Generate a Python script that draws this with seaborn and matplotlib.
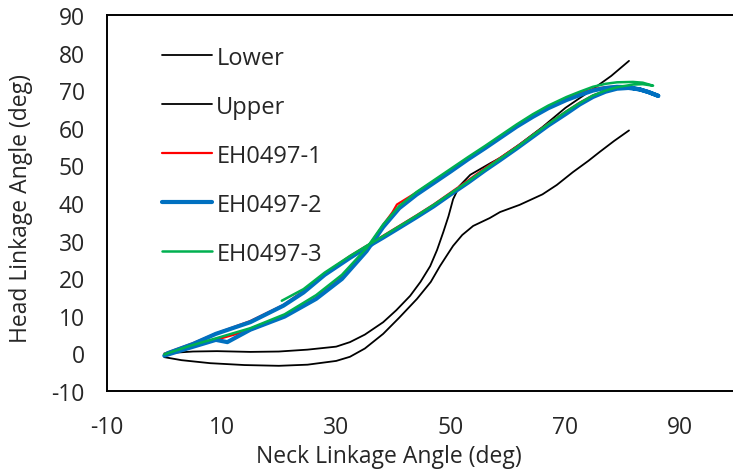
import numpy as np
import pandas as pd
import matplotlib
matplotlib.use("Agg")
import matplotlib.pyplot as plt
import seaborn as sns

# ---------------- data ----------------
lower_x = [0, 3, 8, 14, 20, 25, 30, 32.4, 35, 38.2, 41, 44.1, 46.5, 48.1, 49.5, 50.4, 52, 53.9,
           56.8, 58.6, 62, 66, 68.5, 71.3, 74, 76, 78.5, 81.1]
lower_y = [-1, -1.8, -2.6, -3.1, -3.3, -3, -2.0, -0.9, 1.3, 5.2, 9.5, 14.5, 19, 23.2, 26.5, 28.6, 31.5, 33.9,
           36, 37.6, 39.5, 42.3, 44.8, 48.2, 51.2, 53.6, 56.5, 59.3]

upper_x = [0, 5, 9.2, 15, 20, 25, 30, 32.4, 35, 38.2, 40.5, 42.9, 44.7, 46.4, 47.6, 48.7, 49.6, 50.4,
           51.5, 53.4, 56.8, 58.6, 62, 66, 70, 74.8, 78, 81.1]
upper_y = [0, 0.5, 0.6, 0.4, 0.5, 1, 1.8, 3, 5, 8.3, 11.5, 15.3, 19, 23.2, 27.5, 32.3, 36.5, 41,
           44.5, 47.5, 50.5, 52.0, 55.6, 60.2, 65.3, 70.3, 73.8, 77.8]

# EH0497-1 (red): rising branch then returning branch
eh1_up_x = [0, 4, 9, 15, 21, 26.5, 31, 35.3, 38.2, 39.8, 40.6, 44, 47, 50, 53, 56, 58.6, 61.5, 64.3,
            67, 70.2, 72.5, 74.8, 77, 79, 80.7]
eh1_up_y = [-0.4, 1.6, 3.6, 6.2, 9.8, 14.8, 20.3, 27.6, 34.2, 37.5, 39.6, 42.8, 45.8, 48.8, 51.8, 54.8, 57.5,
            60.4, 63.1, 65.6, 67.9, 69.2, 70.3, 70.8, 71.0, 70.9]
eh1_dn_x = [80.7, 79, 77, 74.8, 72.5, 70.2, 67, 64.3, 61.5, 58.6, 56, 53, 50, 47, 44, 41, 38.2, 35.3,
            32.4, 28, 24.3, 20.8, 15, 9, 5, 0.5]
eh1_dn_y = [70.9, 70.4, 69.8, 68.6, 66.7, 64.4, 61.1, 58.1, 55.0, 52.0, 49.3, 46.0, 42.8, 39.6, 36.7, 33.9,
            31.3, 28.6, 25.9, 21.2, 16.6, 12.9, 8.6, 5.3, 2.7, 0.2]

# EH0497-2 (blue)
eh2_up_x = [0, 4, 9, 11, 15, 21, 26.5, 31, 35.3, 38.2, 41, 44, 47, 50, 53, 56, 58.6, 61.5, 64.3, 67,
            70.2, 72.5, 74.8, 77, 79, 81, 83, 84.5, 86.2]
eh2_up_y = [-0.6, 1.3, 3.6, 3.0, 6.3, 9.8, 14.5, 19.8, 27.2, 33.6, 38.6, 42.2, 45.3, 48.4, 51.6, 54.6, 57.3,
            60.3, 62.9, 65.2, 67.4, 68.7, 69.9, 70.6, 70.9, 70.8, 70.2, 69.5, 68.5]
eh2_dn_x = [86.2, 84.5, 83, 81, 79, 77, 74.8, 72.5, 70.2, 67, 64.3, 61.5, 58.6, 56, 53, 50, 47, 44, 41,
            38.2, 35.3, 32.4, 28, 24.3, 20.8, 15, 9, 5, 0.5]
eh2_dn_y = [68.5, 69.5, 70.2, 70.6, 70.4, 69.6, 68.2, 66.2, 63.8, 60.6, 57.6, 54.5, 51.4, 48.7, 45.4, 42.3,
            39.1, 36.2, 33.4, 30.8, 28.2, 25.4, 20.9, 16.2, 12.7, 8.3, 5.2, 2.5, 0]

# EH0497-3 (green)
eh3_up_x = [0, 4, 9, 15, 21, 26.5, 31, 35.3, 38.2, 41, 44, 47, 50, 53, 56, 58.6, 61.5, 64.3, 67, 70.2,
            72.5, 74.8, 77, 79, 81.8, 83.5, 85.3]
eh3_up_y = [-0.3, 1.8, 4.0, 6.7, 10.4, 15.5, 20.9, 28.0, 34.3, 39.2, 42.9, 46.0, 49.1, 52.2, 55.2, 57.9,
            60.9, 63.6, 65.9, 68.2, 69.6, 70.9, 71.7, 72.1, 72.2, 72.0, 71.2]
eh3_dn_x = [85.3, 83.5, 81.8, 79, 77, 74.8, 72.5, 70.2, 67, 64.3, 61.5, 58.6, 56, 53, 50, 47, 44, 41,
            38.2, 35.3, 32.4, 28, 24.3, 20.5]
eh3_dn_y = [71.2, 71.6, 71.5, 70.8, 69.9, 68.6, 66.6, 64.4, 61.0, 58.0, 54.8, 51.8, 49.0, 45.7, 42.6,
            39.5, 36.6, 33.8, 31.2, 28.6, 25.9, 21.5, 17.1, 14.0]

series_names = ["Lower", "Upper", "EH0497-1", "EH0497-2", "EH0497-3"]
x_ticks = [-10, 10, 30, 50, 70, 90]
y_ticks = [-10, 0, 10, 20, 30, 40, 50, 60, 70, 80, 90]

# ---------------- build table ----------------
paths = {
    "Lower": (lower_x, lower_y),
    "Upper": (upper_x, upper_y),
    "EH0497-1": (eh1_up_x + eh1_dn_x, eh1_up_y + eh1_dn_y),
    "EH0497-2": (eh2_up_x + eh2_dn_x, eh2_up_y + eh2_dn_y),
    "EH0497-3": (eh3_up_x + eh3_dn_x, eh3_up_y + eh3_dn_y),
}
frames = []
for name in series_names:
    xs, ys = paths[name]
    frames.append(pd.DataFrame({"neck": xs, "head": ys, "series": name, "order": range(len(xs))}))
df = pd.concat(frames, ignore_index=True)

colors = {"Lower": "#000000", "Upper": "#000000", "EH0497-1": "#FF0000",
          "EH0497-2": "#0070C0", "EH0497-3": "#00B050"}
widths = {"Lower": 1.3, "Upper": 1.3, "EH0497-1": 1.6, "EH0497-2": 3.0, "EH0497-3": 1.8}

# ---------------- style ----------------
sns.set_theme(style="white")
plt.rcParams["font.family"] = ["Open Sans", "DejaVu Sans"]
plt.rcParams["axes.unicode_minus"] = False

fig = plt.figure(figsize=(7.33, 4.77), dpi=100)
ax = fig.add_axes([107 / 733, 85 / 477, 1 - 107 / 733, 376 / 477])

for name in series_names:
    sub = df[df["series"] == name]
    sns.lineplot(data=sub, x="neck", y="head", sort=False, estimator=None,
                 color=colors[name], linewidth=widths[name], label=name, ax=ax)

ax.set_xlim(-10, 99.25)
ax.set_ylim(-10, 90)
ax.set_xticks(x_ticks)
ax.set_yticks(y_ticks)
ax.tick_params(axis="both", direction="in", length=6, width=1.2, color="black",
               labelsize=16.5, labelcolor="#262626")
ax.tick_params(axis="x", pad=17)
ax.tick_params(axis="y", pad=16)
for side in ["left", "top", "bottom"]:
    ax.spines[side].set_visible(True)
    ax.spines[side].set_color("black")
    ax.spines[side].set_linewidth(1.4)
ax.spines["right"].set_visible(False)

ax.set_xlabel("Neck Linkage Angle (deg)", fontsize=16.5, color="#262626")
ax.set_ylabel("Head Linkage Angle (deg)", fontsize=16.5, color="#262626")
ax.xaxis.set_label_coords(0.451, -0.142)
ax.yaxis.set_label_coords(-0.118, 0.489)

leg = ax.legend(loc="upper left", bbox_to_anchor=(0.072, 0.944), frameon=False,
                fontsize=17, handlelength=2.12, handletextpad=0.2, labelspacing=1.06,
                borderaxespad=0)
for t in leg.get_texts():
    t.set_color("#262626")

fig.savefig("out.png", dpi=100)
